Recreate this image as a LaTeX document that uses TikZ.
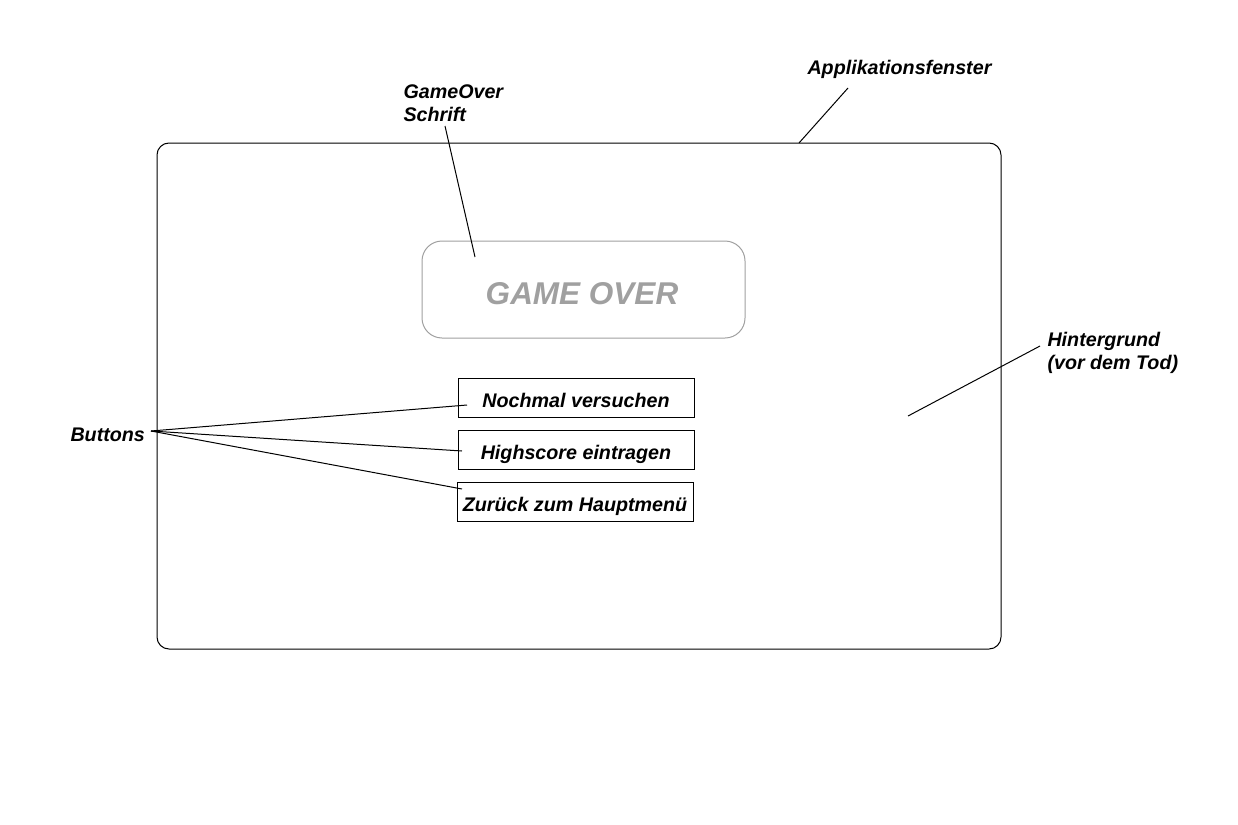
\documentclass[tikz,border=0pt]{standalone}
\usepackage{fontspec}
\setmainfont{Liberation Sans}
\usetikzlibrary{positioning}

\definecolor{schriftgrau}{HTML}{A0A0A0}

\begin{document}
\begin{tikzpicture}[x=1pt, y=-1pt, line width=1pt,
    label/.style={font=\bfseries\itshape\fontsize{19.7}{23}\selectfont, align=left, anchor=west, inner sep=0pt},
    button/.style={draw, minimum width=236pt, minimum height=39pt, inner sep=0pt, text height=19pt, text depth=0pt,
                   font=\bfseries\itshape\fontsize{19.7}{23}\selectfont}]
    \useasboundingbox (0,0) rectangle (1238,824);

    % Fenster und GameOver-Schrift
    \node[draw, rounded corners=12pt, minimum width=844pt, minimum height=506pt, inner sep=0pt] (fenster) at (579,396) {};
    \node[draw=schriftgrau, rounded corners=20pt, minimum width=323pt, minimum height=97pt, inner sep=0pt] (gameover) at (583.5,289.5) {};
    \node[text=schriftgrau, inner sep=0pt, font=\bfseries\itshape\fontsize{31.5}{36}\selectfont] (gameovertext) at (582,293.5) {GAME OVER};

    % Buttons
    \node[button] (nochmal) at (576,397.5) {Nochmal versuchen};
    \node[button] (highscore) at (576,449.5) {Highscore eintragen};
    \node[button] (zurueck) at (575,501.5) {Zurück zum Hauptmenü};

    % Beschriftungen
    \node[label] (schrift) at (403,103.5) {GameOver\\Schrift};
    \node[label] (appl) at (807,69) {Applikationsfenster};
    \node[label] (hintergrund) at (1047,352.5) {Hintergrund\\(vor dem Tod)};
    \node[label] (buttons) at (70,434.5) {Buttons};

    \coordinate (schriftfuss) at (445,126);
    \coordinate (schriftspitze) at (475,257);
    \coordinate (applfuss) at (848,88);
    \coordinate (applspitze) at (799,143);
    \coordinate (hgfuss) at (1040,346);
    \coordinate (hgspitze) at (908,416);
    \coordinate (btfuss) at (151,431);
    \coordinate (nochmalspitze) at (467,405);
    \coordinate (highscorespitze) at (462,451);
    \coordinate (zurueckspitze) at (462,489);

    \draw (schriftfuss) -- (schriftspitze);
    \draw (applfuss) -- (applspitze);
    \draw (hgfuss) -- (hgspitze);
    \draw (btfuss) -- (nochmalspitze);
    \draw (btfuss) -- (highscorespitze);
    \draw (btfuss) -- (zurueckspitze);
\end{tikzpicture}
\end{document}
